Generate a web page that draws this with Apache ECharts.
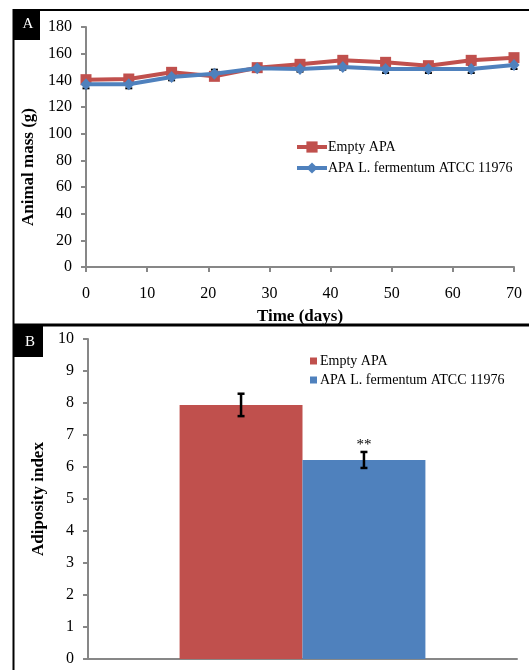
<!DOCTYPE html>
<html>
<head>
<meta charset="utf-8">
<script src="https://cdn.jsdelivr.net/npm/echarts@6/dist/echarts.min.js"></script>
<style>
html,body{margin:0;padding:0;background:#fff;}
#c{width:529px;height:670px;}
</style>
</head>
<body>
<div id="c"></div>
<script>
// Panel A data
const days = [0, 7, 14, 21, 28, 35, 42, 49, 56, 63, 70];
const emptyMass = [140.5, 141, 146, 143, 149.5, 152, 155, 153.5, 151, 155, 157];
const fermMass = [137, 137, 142.5, 145, 149, 148.5, 150, 148.5, 148.5, 148.5, 151.5];
const fermMassErr = [3, 3, 2.5, 3, 2, 2, 2, 3, 3, 3, 3];
// Panel B data
const groups = [''];
const emptyAdip = [7.94];
const emptyAdipErr = [0.35];
const fermAdip = [6.22];
const fermAdipErr = [0.25];
const sigMarks = ['', '**'];
const seriesNames = ['Empty APA', 'APA L. fermentum ATCC 11976'];

const RED = '#C0504D', BLUE = '#4F81BD', AXIS = '#878787';
const FONT = "'Liberation Serif', 'Times New Roman', serif";
const CAT_GAP = 0.427;

const chart = echarts.init(document.getElementById('c'));

const lineErrData = days.map((d, i) => [d, fermMass[i], fermMassErr[i]]);
const barErrData = [
  [0, emptyAdip[0], emptyAdipErr[0], 0],
  [0, fermAdip[0], fermAdipErr[0], 1]
];

chart.setOption({
  animation: false,
  textStyle: { fontFamily: FONT, color: '#000' },
  grid: [
    { left: 86, top: 27, right: 15, height: 240 },
    { left: 88, top: 339, right: 12, height: 320 }
  ],
  xAxis: [
    {
      gridIndex: 0, type: 'value', min: 0, max: 70, interval: 10,
      name: 'Time (days)', nameLocation: 'middle', nameGap: 41,
      nameTextStyle: { fontFamily: FONT, fontSize: 17, fontWeight: 'bold', color: '#000' },
      axisLine: { lineStyle: { color: AXIS, width: 2 } },
      axisTick: { show: true, length: 5, lineStyle: { color: AXIS, width: 2 } },
      axisLabel: { fontFamily: FONT, fontSize: 16, color: '#000', margin: 19 },
      splitLine: { show: false }
    },
    {
      gridIndex: 1, type: 'category', data: groups,
      axisLine: { lineStyle: { color: AXIS, width: 2 } },
      axisTick: { show: false },
      axisLabel: { show: false },
      splitLine: { show: false }
    }
  ],
  yAxis: [
    {
      gridIndex: 0, type: 'value', min: 0, max: 180, interval: 20,
      name: 'Animal mass (g)', nameLocation: 'middle', nameGap: 41, nameRotate: 90,
      nameTextStyle: { fontFamily: FONT, fontSize: 17, fontWeight: 'bold', color: '#000', padding: [0, 40, 0, 0] },
      axisLine: { show: true, lineStyle: { color: AXIS, width: 2 } },
      axisTick: { show: true, length: 5, lineStyle: { color: AXIS, width: 2 } },
      axisLabel: { fontFamily: FONT, fontSize: 16, color: '#000', margin: 14 },
      splitLine: { show: false }
    },
    {
      gridIndex: 1, type: 'value', min: 0, max: 10, interval: 1,
      name: 'Adiposity index', nameLocation: 'middle', nameGap: 41, nameRotate: 90,
      nameTextStyle: { fontFamily: FONT, fontSize: 17, fontWeight: 'bold', color: '#000' },
      axisLine: { show: true, lineStyle: { color: AXIS, width: 2 } },
      axisTick: { show: true, length: 5, lineStyle: { color: AXIS, width: 2 } },
      axisLabel: { fontFamily: FONT, fontSize: 16, color: '#000', margin: 14 },
      splitLine: { show: false }
    }
  ],
  legend: [
    {
      data: seriesNames, orient: 'vertical', left: 295, top: 140, padding: 0,
      itemWidth: 30, itemHeight: 14, itemGap: 7,
      lineStyle: { width: 4 },
      textStyle: { fontFamily: FONT, fontSize: 14, color: '#000', padding: [0, 0, 0, -4] },
      selectedMode: false
    },
    {
      data: [{ name: seriesNames[0], icon: 'rect' }, { name: seriesNames[1], icon: 'rect' }],
      orient: 'vertical', left: 310, top: 354, padding: 0,
      itemWidth: 7, itemHeight: 7, itemGap: 5,
      textStyle: { fontFamily: FONT, fontSize: 14, color: '#000', lineHeight: 14, padding: [0, 0, 0, -2] },
      selectedMode: false
    }
  ],
  series: [
    {
      name: seriesNames[0], type: 'line', xAxisIndex: 0, yAxisIndex: 0,
      data: days.map((d, i) => [d, emptyMass[i]]),
      symbol: 'rect', symbolSize: 11, z: 3,
      lineStyle: { color: RED, width: 4 },
      itemStyle: { color: RED }
    },
    {
      name: seriesNames[1], type: 'line', xAxisIndex: 0, yAxisIndex: 0,
      data: days.map((d, i) => [d, fermMass[i]]),
      symbol: 'diamond', symbolSize: [11, 12], z: 4,
      lineStyle: { color: BLUE, width: 4 },
      itemStyle: { color: BLUE }
    },
    {
      type: 'custom', xAxisIndex: 0, yAxisIndex: 0, z: 2, silent: true,
      data: lineErrData,
      renderItem: function (params, api) {
        const x = api.value(0), v = api.value(1), e = api.value(2);
        const hi = api.coord([x, v + e]), lo = api.coord([x, v - e]);
        const cap = 3.5;
        const st = { stroke: '#000', lineWidth: 2 };
        return { type: 'group', children: [
          { type: 'line', shape: { x1: hi[0], y1: hi[1], x2: lo[0], y2: lo[1] }, style: st },
          { type: 'line', shape: { x1: hi[0] - cap, y1: hi[1], x2: hi[0] + cap, y2: hi[1] }, style: st },
          { type: 'line', shape: { x1: lo[0] - cap, y1: lo[1], x2: lo[0] + cap, y2: lo[1] }, style: st }
        ] };
      }
    },
    {
      name: seriesNames[0], type: 'bar', xAxisIndex: 1, yAxisIndex: 1,
      data: emptyAdip, barGap: 0, barCategoryGap: (CAT_GAP * 100) + '%',
      itemStyle: { color: RED }
    },
    {
      name: seriesNames[1], type: 'bar', xAxisIndex: 1, yAxisIndex: 1,
      data: fermAdip, barGap: 0, barCategoryGap: (CAT_GAP * 100) + '%',
      itemStyle: { color: BLUE }
    },
    {
      type: 'custom', xAxisIndex: 1, yAxisIndex: 1, z: 5, silent: true,
      data: barErrData,
      renderItem: function (params, api) {
        const c = api.value(0), v = api.value(1), e = api.value(2), s = api.value(3);
        const band = api.size([1, 0])[0];
        const bw = band * (1 - CAT_GAP) / 2;
        const off = s === 0 ? -bw / 2 : bw / 2;
        const hi = api.coord([c, v + e]), lo = api.coord([c, v - e]);
        const x = hi[0] + off;
        const cap = 3.5;
        const st = { stroke: '#000', lineWidth: 2.5 };
        const children = [
          { type: 'line', shape: { x1: x, y1: hi[1], x2: x, y2: lo[1] }, style: st },
          { type: 'line', shape: { x1: x - cap, y1: hi[1], x2: x + cap, y2: hi[1] }, style: st },
          { type: 'line', shape: { x1: x - cap, y1: lo[1], x2: x + cap, y2: lo[1] }, style: st }
        ];
        if (sigMarks[s]) {
          children.push({ type: 'text', x: x, y: hi[1] + 1, style: {
            text: sigMarks[s], fill: '#000', font: '15px ' + FONT, align: 'center', verticalAlign: 'bottom' } });
        }
        return { type: 'group', children: children };
      }
    }
  ],
  graphic: [
    { type: 'line', shape: { x1: 13.5, y1: 9, x2: 13.5, y2: 670 }, style: { stroke: '#000', lineWidth: 2 } },
    { type: 'line', shape: { x1: 13, y1: 10, x2: 529, y2: 10 }, style: { stroke: '#000', lineWidth: 2 } },
    { type: 'line', shape: { x1: 13, y1: 325, x2: 529, y2: 325 }, style: { stroke: '#000', lineWidth: 3 } },
    { type: 'rect', shape: { x: 13, y: 9, width: 27, height: 31 }, style: { fill: '#000' } },
    { type: 'text', x: 28, y: 24.5, style: { text: 'A', fill: '#fff', font: '15px ' + FONT, align: 'center', verticalAlign: 'middle' } },
    { type: 'rect', shape: { x: 13, y: 326, width: 30, height: 31 }, style: { fill: '#000' } },
    { type: 'text', x: 30, y: 342, style: { text: 'B', fill: '#fff', font: '15px ' + FONT, align: 'center', verticalAlign: 'middle' } }
  ]
});
</script>
</body>
</html>
